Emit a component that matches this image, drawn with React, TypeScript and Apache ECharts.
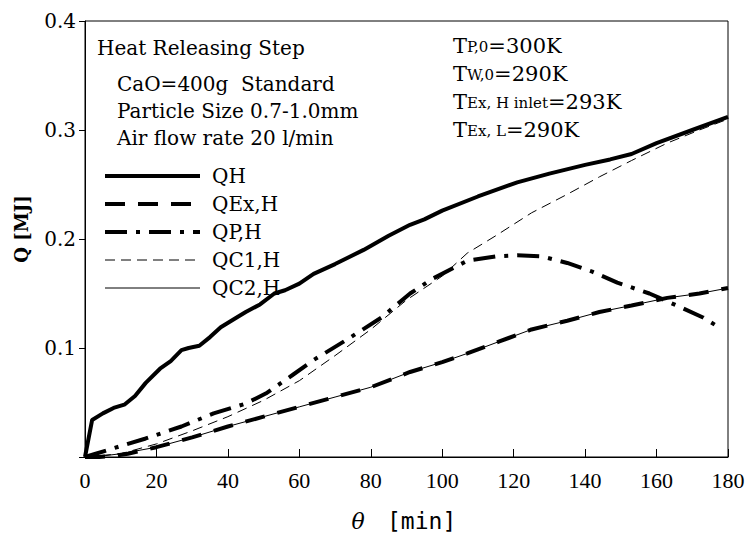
import React, { useEffect, useRef } from "react";
import * as echarts from "echarts";

// ---- data ----
const qhT = [0, 2, 5, 8, 11, 14, 17, 21, 24, 27, 29, 32, 35, 38, 42, 45, 49, 53, 56, 60, 64, 70, 78, 85, 91, 95, 100, 110, 121, 130, 140, 147, 153, 160, 170, 180];
const qhV = [0, 0.034, 0.040, 0.045, 0.048, 0.056, 0.068, 0.081, 0.088, 0.098, 0.100, 0.102, 0.110, 0.119, 0.127, 0.133, 0.140, 0.150, 0.153, 0.159, 0.168, 0.177, 0.190, 0.203, 0.213, 0.218, 0.226, 0.239, 0.252, 0.260, 0.268, 0.273, 0.278, 0.288, 0.300, 0.312];

const qexT = [0, 4, 8, 12, 20, 30, 40, 50, 60, 70, 80, 91, 100, 107, 116, 125, 135, 144, 153, 163, 172, 180];
const qexV = [0, 0.000, 0.001, 0.003, 0.009, 0.018, 0.028, 0.037, 0.046, 0.055, 0.064, 0.078, 0.087, 0.095, 0.106, 0.117, 0.125, 0.133, 0.139, 0.146, 0.150, 0.155];

const qpT = [0, 3, 8, 17, 27, 36, 45, 51, 58, 64, 73, 83, 91, 97, 107, 115, 121, 128, 135, 142, 149, 158, 167, 173, 178];
const qpV = [0, 0.003, 0.008, 0.017, 0.028, 0.040, 0.049, 0.059, 0.075, 0.089, 0.107, 0.128, 0.150, 0.163, 0.180, 0.184, 0.185, 0.184, 0.178, 0.170, 0.160, 0.150, 0.137, 0.128, 0.118];

const qc1T = [0, 10, 20, 30, 40, 50, 60, 70, 80, 90, 100, 107, 115, 125, 135, 144, 153, 163, 172, 180];
const qc1V = [0, 0.003, 0.012, 0.024, 0.037, 0.052, 0.070, 0.093, 0.117, 0.144, 0.166, 0.187, 0.203, 0.224, 0.241, 0.257, 0.272, 0.288, 0.300, 0.310];

const qc2T = [0, 5, 10, 20, 30, 40, 50, 60, 70, 80, 91, 100, 107, 116, 125, 135, 144, 153, 163, 172, 180];
const qc2V = [0, 0.001, 0.003, 0.009, 0.018, 0.028, 0.037, 0.046, 0.055, 0.064, 0.078, 0.087, 0.095, 0.106, 0.117, 0.125, 0.133, 0.139, 0.146, 0.150, 0.155];

const seriesNames = ["QH", "QEx,H", "QP,H", "QC1,H", "QC2,H"];
const xTicks = [0, 20, 40, 60, 80, 100, 120, 140, 160, 180];
const yTicks = [0, 0.1, 0.2, 0.3, 0.4];

const infoLeft = ["Heat Releasing Step", "CaO=400g  Standard", "Particle Size 0.7-1.0mm", "Air flow rate 20 l/min"];
const infoRight = [
  ["T", "P,0", "=300K"],
  ["T", "W,0", "=290K"],
  ["T", "Ex, H inlet", "=293K"],
  ["T", "Ex, L", "=290K"],
];

const pairs = (t: number[], v: number[]) => t.map((x, i) => [x, v[i]]);

const SERIF = '"DejaVu Serif", "Liberation Serif", serif';
const TIMES = '"Liberation Serif", serif';

const styles: { width: number; dash: number[] | null }[] = [
  { width: 4, dash: null },
  { width: 4, dash: [20, 13] },
  { width: 4, dash: [22, 9, 4, 9] },
  { width: 1, dash: [10, 6] },
  { width: 1, dash: null },
];

export default function App() {
  const ref = useRef<HTMLDivElement>(null);
  useEffect(() => {
    if (!ref.current) return;
    const chart = echarts.init(ref.current, undefined, { renderer: "svg" });
    const mk = (i: number, data: number[][]) => ({
      name: seriesNames[i],
      type: "line",
      data,
      symbol: "none",
      smooth: false,
      lineStyle: { color: "#000", width: styles[i].width, type: styles[i].dash || "solid", cap: "butt" },
      itemStyle: { color: "#000" },
      z: 3,
    });
    const rightTexts = infoRight.map((r, i) => ({
      type: "text",
      x: 453,
      y: 45 + i * 28,
      style: {
        text: `{a|${r[0]}}{b|${r[1]}}{a|${r[2]}}`,
        verticalAlign: "middle",
        rich: {
          a: { fontFamily: SERIF, fontSize: 21, color: "#000", lineHeight: 23, verticalAlign: "bottom" },
          b: { fontFamily: SERIF, fontSize: 15, color: "#000", lineHeight: 23, verticalAlign: "bottom", padding: [0, 0, 2, 0] },
        },
      },
    }));
    const leftTexts = infoLeft.map((s, i) => ({
      type: "text",
      x: i === 0 ? 97 : 117,
      y: i === 0 ? 48 : 84 + (i - 1) * 27,
      style: {
        text: s,
        font: `20px ${SERIF}`,
        fill: "#000",
        verticalAlign: "middle",
      },
    }));
    const legendItems: any[] = [];
    seriesNames.forEach((n, i) => {
      const y = 176 + i * 28;
      legendItems.push({
        type: "line",
        shape: { x1: 105, y1: y, x2: 200, y2: y },
        style: { stroke: "#000", lineWidth: styles[i].width, lineDash: styles[i].dash || null, lineCap: "butt" },
      });
      legendItems.push({
        type: "text",
        x: 212,
        y,
        style: { text: n, font: `20px ${SERIF}`, fill: "#000", verticalAlign: "middle" },
      });
    });
    chart.setOption({
      animation: false,
      backgroundColor: "#fff",
      grid: {
        left: 85,
        top: 21,
        right: 20,
        bottom: 88,
        show: true,
        borderColor: "#000",
        borderWidth: 1,
      },
      xAxis: {
        type: "value",
        min: xTicks[0],
        max: xTicks[xTicks.length - 1],
        interval: 20,
        axisLine: { lineStyle: { color: "#000", width: 1 } },
        axisTick: { inside: true, length: 8, lineStyle: { color: "#000" } },
        splitLine: { show: false },
        axisLabel: { fontFamily: TIMES, fontSize: 22, color: "#000", margin: 12 },
      },
      yAxis: {
        type: "value",
        min: yTicks[0],
        max: yTicks[yTicks.length - 1],
        interval: 0.1,
        axisLine: { show: true, lineStyle: { color: "#000", width: 1 } },
        axisTick: { show: true, inside: false, length: 6, lineStyle: { color: "#000" } },
        splitLine: { show: false },
        axisLabel: {
          fontFamily: SERIF,
          fontSize: 20,
          color: "#000",
          margin: 9,
          formatter: (v: number) => (v === 0 ? "" : v.toFixed(1)),
        },
      },
      graphic: [
        ...leftTexts,
        ...rightTexts,
        ...legendItems,
        {
          type: "text",
          x: 21,
          y: 229,
          rotation: Math.PI / 2,
          style: {
            text: "Q [MJ]",
            font: `bold 18px ${SERIF}`,
            fill: "#000",
            align: "center",
            verticalAlign: "middle",
          },
        },
        {
          type: "text",
          x: 358,
          y: 521,
          style: {
            text: "θ",
            font: `italic 22px ${SERIF}`,
            fill: "#000",
            align: "center",
            verticalAlign: "middle",
          },
        },
        {
          type: "text",
          x: 387,
          y: 521,
          style: {
            text: "[min]",
            font: `23px "DejaVu Sans Mono", monospace`,
            fill: "#000",
            align: "left",
            verticalAlign: "middle",
          },
        },
      ],
      series: [
        mk(0, pairs(qhT, qhV)),
        mk(1, pairs(qexT, qexV)),
        mk(2, pairs(qpT, qpV)),
        mk(3, pairs(qc1T, qc1V)),
        mk(4, pairs(qc2T, qc2V)),
      ],
    });
    return () => chart.dispose();
  }, []);
  return <div ref={ref} style={{ width: 748, height: 545, position: "absolute", left: 0, top: 0 }} />;
}
